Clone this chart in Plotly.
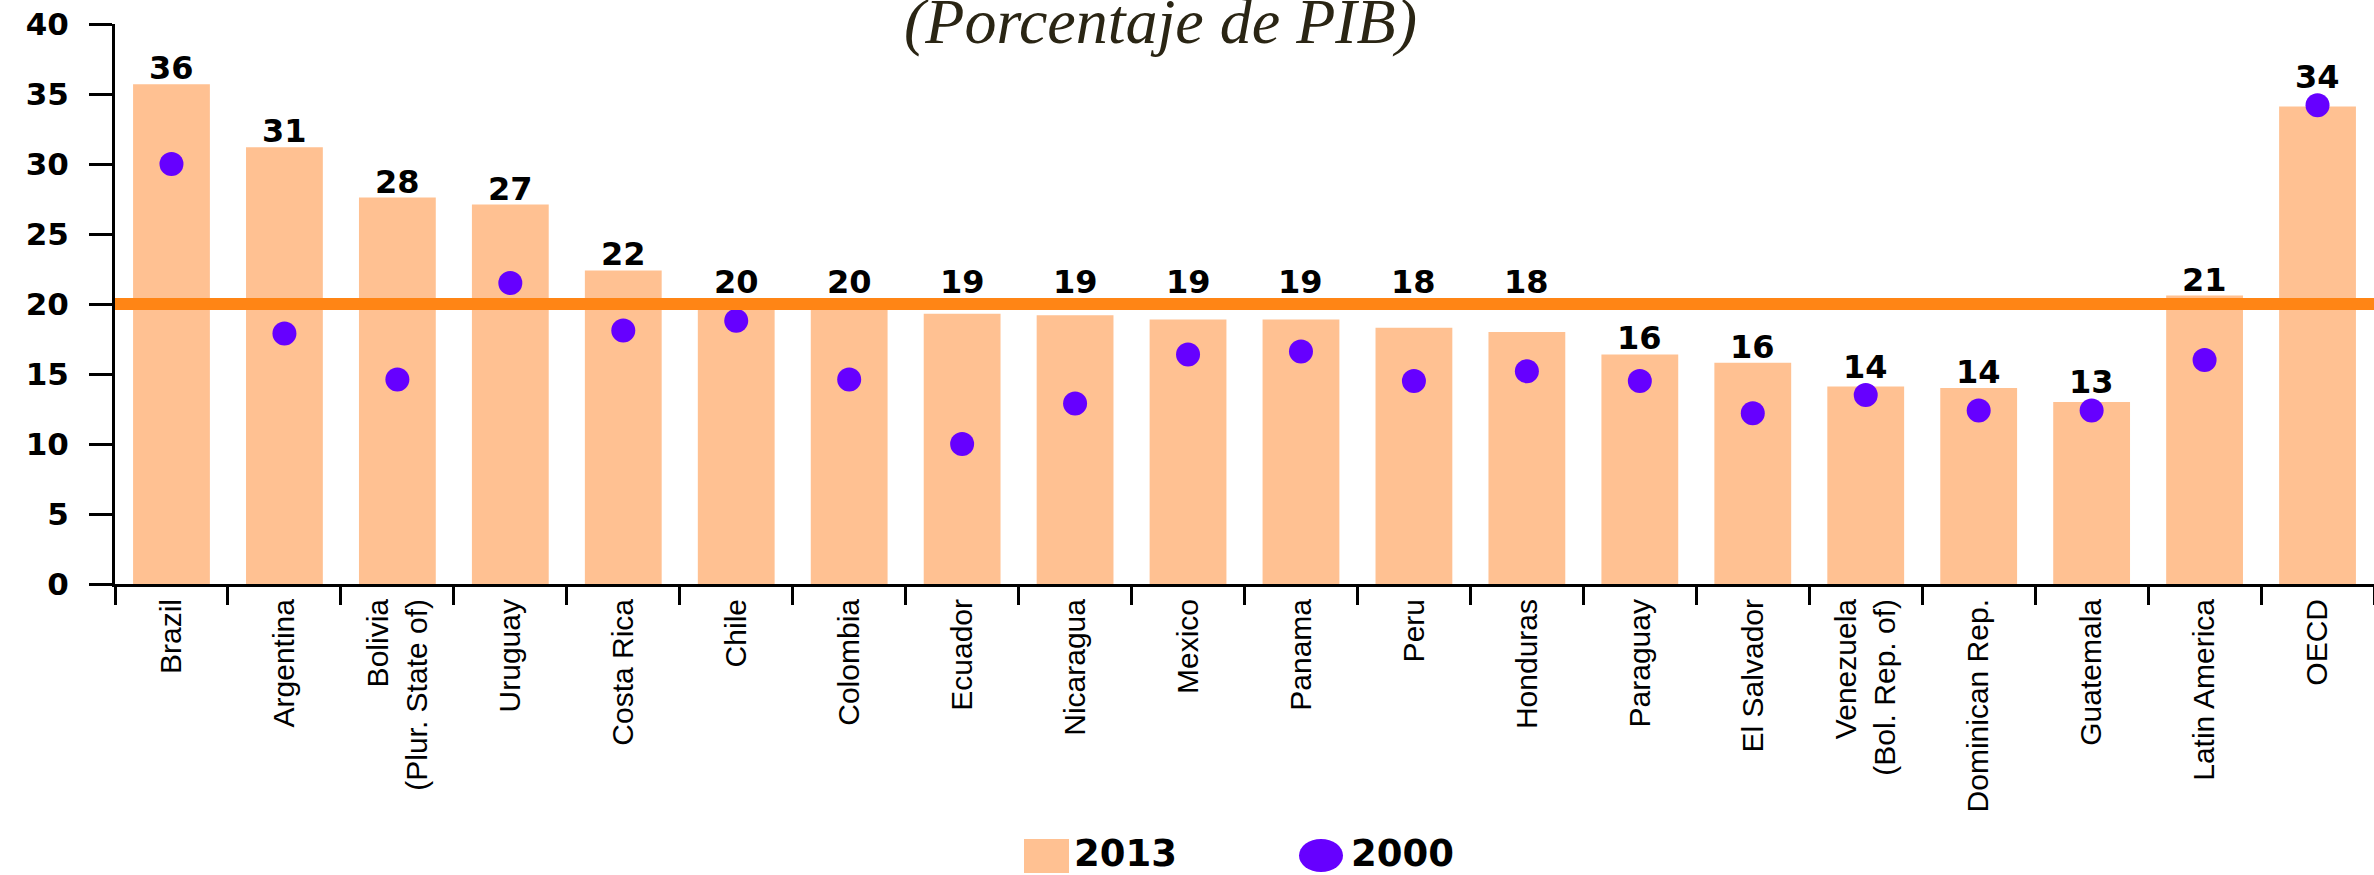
import plotly.graph_objects as go

categories = [
    "Brazil", "Argentina", "Bolivia<br>(Plur. State of)", "Uruguay", "Costa Rica",
    "Chile", "Colombia", "Ecuador", "Nicaragua", "Mexico", "Panama", "Peru",
    "Honduras", "Paraguay", "El Salvador", "Venezuela<br>(Bol. Rep. of)",
    "Dominican Rep.", "Guatemala", "Latin America", "OECD",
]
values_2013 = [35.7, 31.2, 27.6, 27.1, 22.4, 20.3, 20.3, 19.3, 19.2, 18.9, 18.9,
               18.3, 18.0, 16.4, 15.8, 14.1, 14.0, 13.0, 20.6, 34.1]
values_2000 = [30.0, 17.9, 14.6, 21.5, 18.1, 18.8, 14.6, 10.0, 12.9, 16.4, 16.6,
               14.5, 15.2, 14.5, 12.2, 13.5, 12.4, 12.4, 16.0, 34.2]
reference_level = 20
y_ticks = [0, 5, 10, 15, 20, 25, 30, 35, 40]
legend_labels = ["2013", "2000"]
title_text = "(Porcentaje de PIB)"

BAR_COLOR = "#ffc192"
DOT_COLOR = "#6600ff"
LINE_COLOR = "#ff8515"

W, H = 2374, 875
ML, MR, MT, MB = 115, 0, 24, 291
PW = W - ML - MR
PH = H - MT - MB
Y_MAX = 40
PPU = PH / Y_MAX          # pixels per data unit
LINE_W = 12
DOT_SIZE = 24
LABEL_H = 28              # approx. pixel height of a value label


def px_x(px):
    return (px - ML) / PW


def px_y(py):
    return (H - MB - py) / PH


fig = go.Figure()
fig.add_trace(go.Bar(
    x=categories, y=values_2013, name=legend_labels[0],
    marker=dict(color=BAR_COLOR, line=dict(width=0)),
    width=0.68,
))
fig.add_trace(go.Scatter(
    x=categories, y=values_2000, name=legend_labels[1], mode="markers",
    marker=dict(color=DOT_COLOR, size=DOT_SIZE, line=dict(width=0)),
    cliponaxis=False,
))

fig.add_shape(type="line", xref="paper", yref="y", x0=0, x1=1,
              y0=reference_level, y1=reference_level,
              line=dict(color=LINE_COLOR, width=LINE_W), layer="above")

# value labels above bars, kept clear of the reference line and the 2000 dots
line_top = reference_level + (LINE_W / 2) / PPU
line_bot = reference_level - (LINE_W / 2) / PPU
label_font = dict(family="DejaVu Sans", size=32, color="black", weight="bold")
for cat, v, d in zip(categories, values_2013, values_2000):
    base = v
    if base + LABEL_H / PPU > line_bot and base < line_top:
        base = line_top
    dot_top = d + (DOT_SIZE / 2) / PPU
    if d <= base + LABEL_H / PPU and dot_top > base:
        base = dot_top
    fig.add_annotation(x=cat, y=base, xref="x", yref="y", text=f"{v:.0f}",
                       showarrow=False, yanchor="bottom", xanchor="center",
                       yshift=-4, font=label_font, borderpad=0)

# custom legend
fig.add_shape(type="rect", xref="paper", yref="paper",
              x0=px_x(1024), x1=px_x(1069), y0=px_y(873), y1=px_y(839),
              fillcolor=BAR_COLOR, line=dict(width=0))
fig.add_shape(type="circle", xref="paper", yref="paper",
              x0=px_x(1299), x1=px_x(1343), y0=px_y(872), y1=px_y(839),
              fillcolor=DOT_COLOR, line=dict(width=0))
legend_font = dict(family="DejaVu Sans", size=37, color="black", weight="bold")
fig.add_annotation(text=legend_labels[0], xref="paper", yref="paper",
                   x=px_x(1073), y=px_y(853), xanchor="left", yanchor="middle",
                   showarrow=False, font=legend_font, borderpad=0)
fig.add_annotation(text=legend_labels[1], xref="paper", yref="paper",
                   x=px_x(1350), y=px_y(853), xanchor="left", yanchor="middle",
                   showarrow=False, font=legend_font, borderpad=0)

fig.add_annotation(text="<i>" + title_text + "</i>", xref="paper", yref="paper",
                   x=px_x(1160), y=px_y(21), xanchor="center", yanchor="middle",
                   showarrow=False,
                   font=dict(family="Liberation Serif", size=64, color="#2a2514"))

fig.update_layout(
    width=W, height=H,
    margin=dict(l=ML, r=MR, t=MT, b=MB, autoexpand=False),
    plot_bgcolor="white", paper_bgcolor="white",
    showlegend=False,
    font=dict(family="Liberation Sans", color="black"),
)
fig.update_xaxes(
    type="category", range=[-0.5, len(categories) - 0.5],
    showline=True, linecolor="black", linewidth=3,
    ticks="outside", tickson="boundaries", ticklen=18, tickwidth=3, tickcolor="black",
    tickangle=-90, tickfont=dict(family="Liberation Sans", size=30, color="black"),
    showgrid=False, zeroline=False, automargin=False,
)
fig.update_yaxes(
    range=[0, Y_MAX], tickvals=y_ticks,
    showline=True, linecolor="black", linewidth=3,
    ticks="outside", ticklen=23, tickwidth=3, tickcolor="black",
    tickfont=dict(family="DejaVu Sans", size=31, color="black", weight="bold"),
    ticklabelstandoff=14,
    showgrid=False, zeroline=False, automargin=False,
)

fig.write_html("out.html", config={"displayModeBar": False},
               post_script="document.body.style.margin='0';")
